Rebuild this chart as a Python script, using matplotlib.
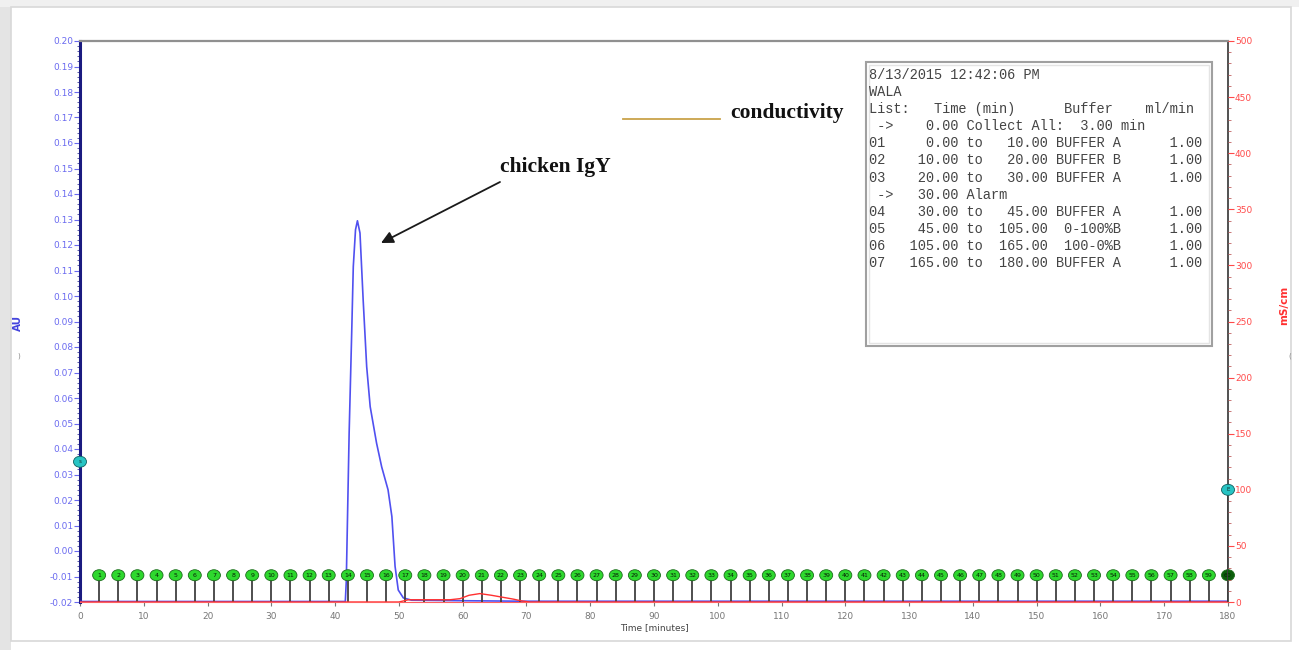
import matplotlib
matplotlib.use("Agg")
import matplotlib.pyplot as plt
from matplotlib.patches import Rectangle, Ellipse
from matplotlib.ticker import MultipleLocator
import numpy as np

# ---------------- data ----------------
uv_time = [0, 41.6, 41.75, 42.2, 42.6, 42.85, 43.2, 43.5, 43.9, 44.4, 44.95,
           45.5, 46.5, 47.3, 48.3, 48.9, 49.4, 49.9, 50.7, 52, 60, 70, 100, 180]
uv_au = [-0.0198, -0.0198, -0.012, 0.0463, 0.0855, 0.1115, 0.126, 0.1295, 0.1247,
         0.0984, 0.0723, 0.0566, 0.0423, 0.033, 0.024, 0.0135, -0.006, -0.0153,
         -0.0184, -0.0193, -0.0195, -0.0197, -0.0197, -0.0197]

cond_time = [0, 50, 51.5, 58, 59.6, 61, 62.7, 64.5, 66, 68, 69.2, 70.5, 180]
cond_mscm = [0, 0, 2, 2, 3, 6, 7.5, 6, 4.5, 2.5, 1, 0, 0]

fraction_numbers = list(range(1, 61))
fraction_times = [3 * n for n in fraction_numbers]
fraction_level = -0.0095

event_times = [0, 180]
event_au = [0.035, None]
event_cond = [None, 100]

x_ticks = list(range(0, 181, 10))
au_ticks = [round(-0.02 + 0.01 * i, 2) for i in range(23)]
cond_ticks = list(range(0, 501, 50))

table_lines = [
    "8/13/2015 12:42:06 PM",
    "WALA",
    "List:   Time (min)      Buffer    ml/min",
    " ->    0.00 Collect All:  3.00 min",
]
program_ids = ["01", "02", "03", "04", "05", "06", "07"]
program_start = [0.0, 10.0, 20.0, 30.0, 45.0, 105.0, 165.0]
program_end = [10.0, 20.0, 30.0, 45.0, 105.0, 165.0, 180.0]
program_buffer = ["BUFFER A", "BUFFER B", "BUFFER A", "BUFFER A", " 0-100%B", " 100-0%B", "BUFFER A"]
program_rate = [1.00] * 7

# ---------------- figure ----------------
W, H = 1299, 650
fig = plt.figure(figsize=(W / 100, H / 100), dpi=100)
fig.patch.set_facecolor("white")

def fx(px):
    return px / W

def fy(py):
    return 1 - py / H

# screenshot frame (behind everything)
fig.patches.append(Rectangle((0, 0), fx(11), 1, transform=fig.transFigure,
                             facecolor="#e4e4e4", edgecolor="none", zorder=-3))
fig.patches.append(Rectangle((0, fy(7)), 1, fy(0) - fy(7), transform=fig.transFigure,
                             facecolor="#f0f0f0", edgecolor="none", zorder=-3))
fig.patches.append(Rectangle((fx(11), fy(641)), fx(1291 - 11), fy(7) - fy(641),
                             transform=fig.transFigure, facecolor="white",
                             edgecolor="#d8d8d8", lw=1.2, zorder=-2))

L, R, T, B = 80, 1228, 41, 602
ax = fig.add_axes([fx(L), fy(B), fx(R - L), fy(T) - fy(B)])
ax.set_facecolor("none")
ax2 = ax.twinx()
ax2.set_facecolor("none")

blue_lab = "#6a6af0"
red_lab = "#ff4a4a"

# UV trace
ax.plot(uv_time, uv_au, color="#5050f0", lw=1.2, zorder=3)

# conductivity trace
ax2.plot(cond_time, cond_mscm, color="#ff3030", lw=1.0, zorder=4)

ax.set_xlim(0, 180)
ax.set_ylim(-0.02, 0.20)
ax2.set_ylim(0, 500)

# fraction markers
ell_w = 13 / (R - L) * 180
ell_h = 11 / (B - T) * 0.22
for n, t in zip(fraction_numbers, fraction_times):
    ax.plot([t, t], [-0.02, fraction_level], color="#404040", lw=1.3, zorder=5,
            solid_capstyle="butt")
    fc = "#0b5e0b" if n == 60 else "#2ed82e"
    e = Ellipse((t, fraction_level), ell_w, ell_h, facecolor=fc, edgecolor="#1b6b1b",
                lw=0.6, zorder=6, clip_on=False)
    ax.add_patch(e)
    ax.text(t, fraction_level, str(n), ha="center", va="center", fontsize=4.5,
            color="#062006", zorder=7, clip_on=False)

# event markers
ax.add_patch(Ellipse((event_times[0], event_au[0]), ell_w, ell_h, facecolor="#27c4c4",
                     edgecolor="#106060", lw=0.6, zorder=8, clip_on=False))
ax.text(event_times[0], event_au[0], "s", ha="center", va="center", fontsize=4,
        color="#103030", zorder=9, clip_on=False)
ax2.plot([event_times[1], event_times[1]], [0, event_cond[1]], color="#404040", lw=1.3, zorder=5)
ell_h2 = 11 / (B - T) * 500
ax2.add_patch(Ellipse((event_times[1], event_cond[1]), ell_w, ell_h2, facecolor="#27c4c4",
                      edgecolor="#106060", lw=0.6, zorder=8, clip_on=False))
ax2.text(event_times[1], event_cond[1], "E", ha="center", va="center", fontsize=4,
         color="#103030", zorder=9, clip_on=False)

# ticks
ax.set_xticks(x_ticks)
ax.set_xticklabels([str(v) for v in x_ticks])
ax.tick_params(axis="x", colors="#777777", labelsize=6.5, length=3, width=0.8, pad=4)
ax.set_yticks(au_ticks)
ax.set_yticklabels([f"{v:.2f}" for v in au_ticks])
ax.yaxis.set_minor_locator(MultipleLocator(0.002))
ax.tick_params(axis="y", which="major", colors=blue_lab, labelsize=6.5, length=4, width=0.8, pad=1)
ax.tick_params(axis="y", which="minor", colors="#4040a0", length=2, width=0.6)
ax2.set_yticks(cond_ticks)
ax2.set_yticklabels([str(v) for v in cond_ticks])
ax2.yaxis.set_minor_locator(MultipleLocator(10))
ax2.tick_params(axis="y", which="major", colors=red_lab, labelsize=6.5, length=4, width=0.8, pad=1)
ax2.tick_params(axis="y", which="minor", colors="#c06060", length=2, width=0.6)

ax.set_xlabel("Time [minutes]", fontsize=6.5, color="#444444", labelpad=2)

# spines
for s in ["top", "right", "bottom", "left"]:
    ax2.spines[s].set_visible(False)
ax.spines["left"].set_color("#1a1a80")
ax.spines["left"].set_linewidth(2.2)
ax.spines["top"].set_color("#909090")
ax.spines["top"].set_linewidth(1.6)
ax.spines["right"].set_color("#333333")
ax.spines["right"].set_linewidth(1.2)
ax.spines["bottom"].set_color("#ff6060")
ax.spines["bottom"].set_linewidth(0.8)

# axis labels
fig.text(fx(18), fy(323), "AU", rotation=90, ha="center", va="center",
         fontsize=7.5, color="#4444dd", fontweight="bold")
fig.text(fx(1284), fy(305), "mS/cm", rotation=90, ha="center", va="center",
         fontsize=7.5, color="#ff3030", fontweight="bold")
fig.text(fx(19), fy(356), ")", ha="center", va="center", fontsize=5, color="#888888")
fig.text(fx(1290), fy(356), "(", ha="center", va="center", fontsize=5, color="#888888")

# method table box
bx0, by0, bx1, by1 = 866, 62, 1212, 346
fig.patches.append(Rectangle((fx(bx0), fy(by1)), fx(bx1 - bx0), fy(by0) - fy(by1),
                             transform=fig.transFigure, facecolor="white",
                             edgecolor="#a0a0a0", lw=1.5, zorder=10))
fig.patches.append(Rectangle((fx(bx0 + 3), fy(by1 - 3)), fx(bx1 - bx0 - 6), fy(by0 + 3) - fy(by1 - 3),
                             transform=fig.transFigure, facecolor="none",
                             edgecolor="#e4e4e4", lw=1.0, zorder=10))
lines = list(table_lines)
for i in range(7):
    lines.append(f"{program_ids[i]}{program_start[i]:>9.2f} to{program_end[i]:>8.2f} "
                 f"{program_buffer[i]:<14}{program_rate[i]:.2f}")
    if program_ids[i] == "03":
        lines.append(" ->   30.00 Alarm")
for i, ln in enumerate(lines):
    fig.text(fx(869), fy(75 + i * 17.1), ln, ha="left", va="center",
             family="Liberation Mono", fontsize=9.8, color="#444444", zorder=11)

# annotations
fig.lines.append(plt.Line2D([fx(623), fx(720)], [fy(119), fy(119)], transform=fig.transFigure,
                            color="#c9a24a", lw=1.3, zorder=12))
fig.text(fx(730), fy(113), "conductivity", ha="left", va="center",
         family="Liberation Serif", fontweight="bold", fontsize=15.5, color="#111111", zorder=12)
fig.text(fx(500), fy(167), "chicken IgY", ha="left", va="center",
         family="Liberation Serif", fontweight="bold", fontsize=15.5, color="#111111", zorder=12)
ax.annotate("", xy=(fx(381), fy(243)), xytext=(fx(500), fy(182)),
            xycoords="figure fraction", textcoords="figure fraction",
            arrowprops=dict(arrowstyle="-|>", color="#1a1a1a", lw=1.3,
                            mutation_scale=18, shrinkA=0, shrinkB=0))

fig.savefig("out.png", dpi=100, facecolor="white")
